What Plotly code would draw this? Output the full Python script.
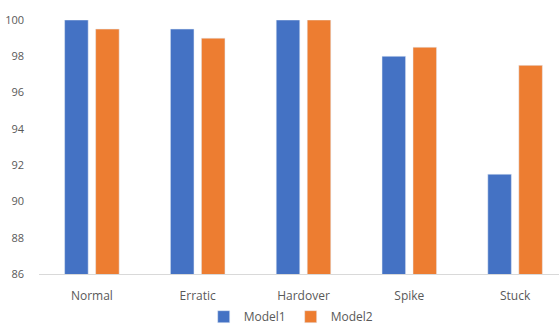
import plotly.graph_objects as go

categories = ["Normal", "Erratic", "Hardover", "Spike", "Stuck"]
model1 = [100, 99.5, 100, 98, 91.5]
model2 = [99.5, 99, 100, 98.5, 97.5]
y_ticks = [86, 88, 90, 92, 94, 96, 98, 100]

fig = go.Figure()
fig.add_trace(go.Bar(name="Model1", x=categories, y=model1, marker_color="#4472C4"))
fig.add_trace(go.Bar(name="Model2", x=categories, y=model2, marker_color="#ED7D31"))

fig.update_layout(
    width=559, height=327,
    margin=dict(l=39, r=0, t=20, b=53, autoexpand=False),
    plot_bgcolor="white", paper_bgcolor="white",
    barmode="group", bargap=0.414, bargroupgap=0.24,
    font=dict(family="Open Sans", size=11, color="#595959"),
    legend=dict(orientation="h", x=0.485, xanchor="center", y=-0.168, yanchor="middle",
                font=dict(size=12, color="#595959"), itemwidth=30, traceorder="normal"),
)
fig.update_xaxes(range=[-0.5, 4.415], showline=True, linecolor="#D9D9D9", linewidth=1,
                 ticks="", ticklabelstandoff=11, showgrid=False, tickfont=dict(size=12))
fig.update_yaxes(range=[86, 100], tickvals=y_ticks, showgrid=False, zeroline=False,
                 showline=False, ticklabelstandoff=14)

fig.write_html("out.html")
